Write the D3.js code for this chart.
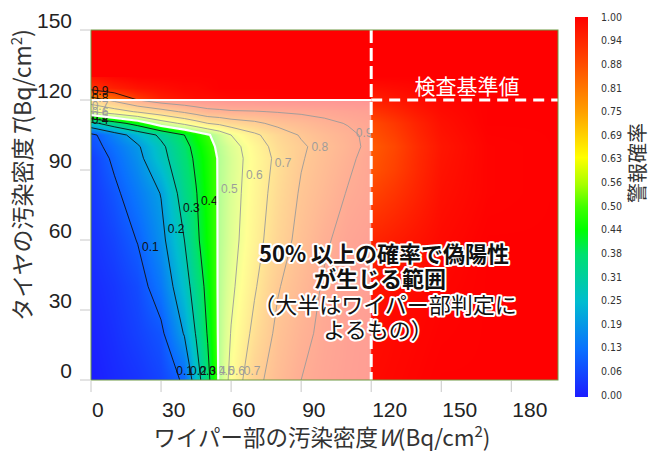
<!DOCTYPE html>
<html>
<head>
<meta charset="utf-8">
<script src="https://cdn.jsdelivr.net/npm/d3@7"></script>
<style>
  body { margin: 0; background: #fff; }
  svg { display: block; }
  text { font-family: "Liberation Sans", Arial, sans-serif; }
  .jp { font-family: "Noto Sans CJK JP", sans-serif; }
</style>
</head>
<body>
<div id="chart"></div>
<script>
// alarm probability (rows = T, columns = W)
const wMain = [0, 10, 20, 30, 40, 45, 50, 55, 60, 70, 80, 90, 100, 110, 120];
const tMain = [0, 20, 40, 60, 80, 95, 100, 105, 110, 115, 120, 125, 130];
const pMain = [
  [0.00, 0.02, 0.035, 0.06, 0.11, 0.25, 0.375, 0.514, 0.629, 0.771, 0.844, 0.90, 0.93, 0.95, 0.96],
  [0.01, 0.03, 0.055, 0.085, 0.206, 0.306, 0.407, 0.515, 0.604, 0.724, 0.821, 0.877, 0.92, 0.945, 0.96],
  [0.02, 0.04, 0.07, 0.137, 0.26, 0.343, 0.427, 0.514, 0.582, 0.69, 0.793, 0.854, 0.91, 0.94, 0.955],
  [0.03, 0.06, 0.103, 0.177, 0.30, 0.383, 0.445, 0.511, 0.567, 0.664, 0.755, 0.829, 0.888, 0.93, 0.95],
  [0.04, 0.085, 0.142, 0.203, 0.342, 0.396, 0.453, 0.51, 0.56, 0.652, 0.736, 0.81, 0.857, 0.905, 0.93],
  [0.05, 0.114, 0.177, 0.27, 0.367, 0.413, 0.461, 0.509, 0.555, 0.642, 0.721, 0.793, 0.839, 0.883, 0.93],
  [0.07, 0.129, 0.19, 0.282, 0.376, 0.424, 0.471, 0.518, 0.564, 0.65, 0.733, 0.787, 0.833, 0.875, 0.92],
  [0.08, 0.158, 0.238, 0.317, 0.40, 0.445, 0.49, 0.54, 0.60, 0.683, 0.75, 0.808, 0.848, 0.882, 0.92],
  [0.27, 0.36, 0.44, 0.55, 0.62, 0.66, 0.70, 0.72, 0.75, 0.78, 0.825, 0.85, 0.88, 0.905, 0.93],
  [0.60, 0.658, 0.71, 0.76, 0.814, 0.843, 0.872, 0.88, 0.89, 0.895, 0.905, 0.915, 0.925, 0.94, 0.95],
  [0.76, 0.82, 0.90, 0.95, 0.97, 0.98, 0.98, 0.985, 0.99, 0.99, 0.995, 0.995, 0.995, 0.995, 0.995],
  [0.92, 0.95, 0.97, 0.98, 0.99, 0.99, 0.995, 1, 1, 1, 1, 1, 1, 1, 1],
  [0.97, 0.99, 1, 1, 1, 1, 1, 1, 1, 1, 1, 1, 1, 1, 1]
];

// outside the inspection limits (W >= 120 or T >= 130)
const wOuter = [120, 130, 140, 150, 170, 200];
const tOuter = [0, 30, 60, 80, 90, 100, 110, 120, 130, 150];
const pOuter = [
  [0.985, 0.99, 0.995, 1, 1, 1],
  [0.975, 0.985, 0.99, 0.995, 1, 1],
  [0.94, 0.955, 0.97, 0.985, 1, 1],
  [0.89, 0.915, 0.945, 0.975, 0.995, 1],
  [0.865, 0.895, 0.935, 0.97, 0.995, 1],
  [0.855, 0.885, 0.93, 0.965, 0.995, 1],
  [0.88, 0.91, 0.945, 0.975, 1, 1],
  [0.95, 0.965, 0.98, 0.99, 1, 1],
  [1, 1, 1, 1, 1, 1],
  [1, 1, 1, 1, 1, 1]
];

const levels = [0.1, 0.2, 0.3, 0.4, 0.5, 0.6, 0.7, 0.8, 0.9];
const limitW = 120;
const limitT = 120;
const xTicks = [0, 30, 60, 90, 120, 150, 180];
const yTicks = [0, 30, 60, 90, 120, 150];
const barTicks = [0, 0.0625, 0.125, 0.1875, 0.25, 0.3125, 0.375, 0.4375, 0.5,
                  0.5625, 0.625, 0.6875, 0.75, 0.8125, 0.875, 0.9375, 1];

const width = 652, height = 455;
const x = d3.scaleLinear().domain([0, 200]).range([91, 558]);
const y = d3.scaleLinear().domain([0, 150]).range([380, 30]);

const color = d3.scaleLinear()
    .domain([0, 0.125, 0.25, 0.375, 0.44, 0.5, 0.56, 0.63, 0.75, 0.88, 1])
    .range(["#1c1cff", "#0a70ff", "#00bcd0", "#00e070", "#00ff00", "#40ff00",
            "#a8ff00", "#ffff00", "#ffa000", "#ff4a00", "#ff0000"])
    .clamp(true);

const svg = d3.select("#chart").append("svg")
    .attr("width", width)
    .attr("height", height);
const defs = svg.append("defs");

// bilinear lookup in a (possibly uneven) grid
function sampler(ws, ts, rows) {
    const wi = d3.scaleLinear().domain(ws).range(d3.range(ws.length)).clamp(true);
    const ti = d3.scaleLinear().domain(ts).range(d3.range(ts.length)).clamp(true);
    return function (w, t) {
        const fx = wi(w), fy = ti(t);
        const i = Math.min(Math.floor(fx), ws.length - 2);
        const j = Math.min(Math.floor(fy), ts.length - 2);
        const u = fx - i, v = fy - j;
        return (1 - u) * (1 - v) * rows[j][i] + u * (1 - v) * rows[j][i + 1]
             + (1 - u) * v * rows[j + 1][i] + u * v * rows[j + 1][i + 1];
    };
}

// ---- heat map on a canvas, placed as an image
const sampleMain = sampler(wMain, tMain, pMain);
const sampleOuter = sampler(wOuter, tOuter, pOuter);
const cw = Math.round(x(200) - x(0)), ch = Math.round(y(0) - y(150));
const canvas = document.createElement("canvas");
canvas.width = cw;
canvas.height = ch;
const ctx = canvas.getContext("2d");
const img = ctx.createImageData(cw, ch);
const lut = d3.range(1001).map(k => d3.rgb(color(k / 1000)));
const tTop = tMain[tMain.length - 1];
for (let py = 0; py < ch; py++) {
    const t = y.invert(y(150) + py + 0.5);
    for (let px = 0; px < cw; px++) {
        const w = x.invert(x(0) + px + 0.5);
        const p = (w < limitW && t < tTop) ? sampleMain(w, t) : sampleOuter(w, t);
        const c = lut[Math.max(0, Math.min(1000, Math.round(p * 1000)))];
        const o = (py * cw + px) * 4;
        img.data[o] = c.r; img.data[o + 1] = c.g; img.data[o + 2] = c.b; img.data[o + 3] = 255;
    }
}
ctx.putImageData(img, 0, 0);
svg.append("image")
    .attr("x", x(0)).attr("y", y(150))
    .attr("width", cw).attr("height", ch)
    .attr("preserveAspectRatio", "none")
    .attr("href", canvas.toDataURL());

// ---- contours of the main grid
const contours = d3.contours()
    .size([wMain.length, tMain.length])
    .thresholds(levels)(pMain.flat());
const wOfIdx = d3.scaleLinear().domain(d3.range(wMain.length)).range(wMain);
const tOfIdx = d3.scaleLinear().domain(d3.range(tMain.length)).range(tMain);
const toData = ([px, py]) => [wOfIdx(px - 0.5), tOfIdx(py - 0.5)];
const path = d3.geoPath(d3.geoTransform({
    point(px, py) {
        const [w, t] = toData([px, py]);
        this.stream.point(x(w), y(t));
    }
}));

defs.append("clipPath").attr("id", "clip-lines").append("rect")
    .attr("x", x(0)).attr("y", y(129))
    .attr("width", x(limitW) - x(0)).attr("height", y(0) - y(129));
defs.append("clipPath").attr("id", "clip-pass").append("rect")
    .attr("x", x(0)).attr("y", y(limitT))
    .attr("width", x(limitW) - x(0)).attr("height", y(0) - y(limitT));

svg.append("g")
    .attr("clip-path", "url(#clip-lines)")
    .selectAll("path")
    .data(contours)
    .join("path")
    .attr("d", path)
    .attr("fill", "none")
    .attr("stroke", "#111")
    .attr("stroke-width", 0.9);

// where a contour crosses a horizontal (axis "t") or vertical (axis "w") line
function crossing(level, axis, v) {
    const c = contours.find(d => d.value === level);
    const hits = [];
    c.coordinates.forEach(poly => poly.forEach(ring => {
        const pts = ring.map(toData);
        for (let k = 1; k < pts.length; k++) {
            const a = pts[k - 1], b = pts[k];
            const ai = axis === "t" ? a[1] : a[0];
            const bi = axis === "t" ? b[1] : b[0];
            if ((ai - v) * (bi - v) <= 0 && ai !== bi) {
                const f = (v - ai) / (bi - ai);
                hits.push(axis === "t" ? a[0] + f * (b[0] - a[0]) : a[1] + f * (b[1] - a[1]));
            }
        }
    }));
    const ok = hits.filter(o => axis === "t" ? (o > 0 && o < limitW) : (o > 0 && o < tTop));
    return ok.length ? ok[0] : null;
}

const labelSpots = [];
[[0.1, 57], [0.2, 65], [0.3, 74], [0.4, 77], [0.5, 82], [0.6, 88], [0.7, 93], [0.8, 100], [0.9, 106]]
    .forEach(([lv, t]) => {
        const w = crossing(lv, "t", t);
        if (w !== null) labelSpots.push({lv, px: x(w) + (lv === 0.9 ? 8 : 12), py: y(t)});
    });
[0.1, 0.2, 0.3, 0.4, 0.5, 0.6, 0.7].forEach(lv => {
    const w = crossing(lv, "t", 4);
    if (w !== null) labelSpots.push({lv, px: x(w) + 8, py: y(4)});
});
[0.4, 0.5, 0.6, 0.7, 0.8, 0.9].forEach(lv => {
    const t = crossing(lv, "w", 2.5);
    if (t !== null) labelSpots.push({lv, px: x(0) + 9, py: y(t)});
});

svg.append("g")
    .attr("clip-path", "url(#clip-lines)")
    .selectAll("text")
    .data(labelSpots)
    .join("text")
    .attr("x", d => d.px)
    .attr("y", d => d.py)
    .attr("dy", "0.35em")
    .attr("text-anchor", "middle")
    .attr("font-size", 12)
    .attr("fill", "#111")
    .text(d => d.lv);

// ---- pale veil over the >= 50% area inside the limits
const half = contours.find(d => d.value === 0.5);
svg.append("path")
    .attr("clip-path", "url(#clip-pass)")
    .attr("d", path(half))
    .attr("fill", "#fff")
    .attr("fill-opacity", 0.58);
svg.append("path")
    .attr("clip-path", "url(#clip-pass)")
    .attr("d", path(half))
    .attr("fill", "none")
    .attr("stroke", "#fff")
    .attr("stroke-width", 2.2);

// ---- inspection limit lines
svg.append("line")
    .attr("x1", x(0)).attr("x2", x(limitW))
    .attr("y1", y(limitT)).attr("y2", y(limitT))
    .attr("stroke", "#fff").attr("stroke-width", 2);
svg.append("line")
    .attr("x1", x(limitW)).attr("x2", x(200))
    .attr("y1", y(limitT)).attr("y2", y(limitT))
    .attr("stroke", "#fff").attr("stroke-width", 3)
    .attr("stroke-dasharray", "11,7");
svg.append("line")
    .attr("x1", x(limitW)).attr("x2", x(limitW))
    .attr("y1", y(150)).attr("y2", y(0))
    .attr("stroke", "#fff").attr("stroke-width", 3)
    .attr("stroke-dasharray", "13,5");
svg.append("text")
    .attr("class", "jp")
    .attr("x", 467).attr("y", 94)
    .attr("text-anchor", "middle")
    .attr("font-size", 21)
    .attr("fill", "#fff")
    .text("検査基準値");

// frame
svg.append("rect")
    .attr("x", x(0)).attr("y", y(150))
    .attr("width", x(200) - x(0)).attr("height", y(0) - y(150))
    .attr("fill", "none")
    .attr("stroke", "#6f9a45")
    .attr("stroke-width", 1);

// ---- axes
const axisG = svg.append("g");
axisG.selectAll(".xt").data(xTicks).join("line")
    .attr("x1", d => x(d)).attr("x2", d => x(d))
    .attr("y1", y(0) + 1).attr("y2", y(0) + 12)
    .attr("stroke", "#c8c8c8");
axisG.selectAll(".xl").data(xTicks).join("text")
    .attr("x", d => x(d) + 1)
    .attr("y", 417)
    .attr("font-size", 21)
    .attr("fill", "#222")
    .text(d => d);
axisG.selectAll(".yt").data(yTicks).join("line")
    .attr("x1", x(0) - 11).attr("x2", x(0) - 1)
    .attr("y1", d => y(d)).attr("y2", d => y(d))
    .attr("stroke", "#c8c8c8");
axisG.selectAll(".yl").data(yTicks).join("text")
    .attr("x", 72)
    .attr("y", d => y(d) - 2.5)
    .attr("text-anchor", "end")
    .attr("font-size", 21)
    .attr("fill", "#222")
    .text(d => d);

const xTitle = svg.append("text")
    .attr("class", "jp")
    .attr("x", 322).attr("y", 446)
    .attr("text-anchor", "middle")
    .attr("font-size", 22.5)
    .attr("fill", "#333");
xTitle.append("tspan").text("ワイパー部の汚染密度");
xTitle.append("tspan").attr("font-style", "italic").text("W");
xTitle.append("tspan").text("(Bq/cm");
xTitle.append("tspan").attr("font-size", 15).attr("dy", -9).text("2");
xTitle.append("tspan").attr("dy", 9).text(")");

const yTitle = svg.append("text")
    .attr("class", "jp")
    .attr("transform", "translate(23,175) rotate(-90)")
    .attr("text-anchor", "middle")
    .attr("dy", "0.36em")
    .attr("font-size", 23)
    .attr("fill", "#333");
yTitle.append("tspan").text("タイヤの汚染密度");
yTitle.append("tspan").attr("font-style", "italic").text("T");
yTitle.append("tspan").text("(Bq/cm");
yTitle.append("tspan").attr("font-size", 15).attr("dy", -9).text("2");
yTitle.append("tspan").attr("dy", 9).text(")");

// ---- colour bar
const grad = defs.append("linearGradient")
    .attr("id", "bar-grad")
    .attr("x1", 0).attr("y1", 1).attr("x2", 0).attr("y2", 0);
grad.selectAll("stop").data(color.domain()).join("stop")
    .attr("offset", d => d)
    .attr("stop-color", d => color(d));
svg.append("rect")
    .attr("x", 575).attr("y", 17)
    .attr("width", 13).attr("height", 380)
    .attr("fill", "url(#bar-grad)");
const yb = d3.scaleLinear().domain([0, 1]).range([395, 17]);
svg.append("g").selectAll("text").data(barTicks).join("text")
    .attr("x", 601)
    .attr("y", d => yb(d))
    .attr("dy", "0.35em")
    .attr("font-size", 10.5)
    .attr("font-stretch", "condensed")
    .attr("fill", "#333")
    .style("font-family", "'Liberation Sans Narrow', 'DejaVu Sans Condensed', 'Arial Narrow', sans-serif")
    .text(d => d3.format(".2f")(d));
svg.append("text")
    .attr("class", "jp")
    .attr("transform", "translate(639,163) rotate(-90)")
    .attr("text-anchor", "middle")
    .attr("dy", "0.3em")
    .attr("font-size", 20)
    .attr("fill", "#333")
    .text("警報確率");

// ---- annotation
const noteLines = [
    {text: "50% 以上の確率で偽陽性", x: 384, y: 262, bold: true},
    {text: "が生じる範囲", x: 380, y: 287, bold: true},
    {text: "（大半はワイパー部判定に", x: 385, y: 313, bold: false},
    {text: "よるもの）", x: 378, y: 338, bold: false}
];
svg.append("g").selectAll("text").data(noteLines).join("text")
    .attr("class", "jp")
    .attr("x", d => d.x)
    .attr("y", d => d.y)
    .attr("text-anchor", "middle")
    .attr("font-size", 22)
    .attr("font-weight", d => d.bold ? 700 : 400)
    .attr("fill", "#111")
    .attr("stroke", "#fff")
    .attr("stroke-width", 4)
    .attr("stroke-linejoin", "round")
    .attr("paint-order", "stroke")
    .text(d => d.text);
</script>
</body>
</html>
